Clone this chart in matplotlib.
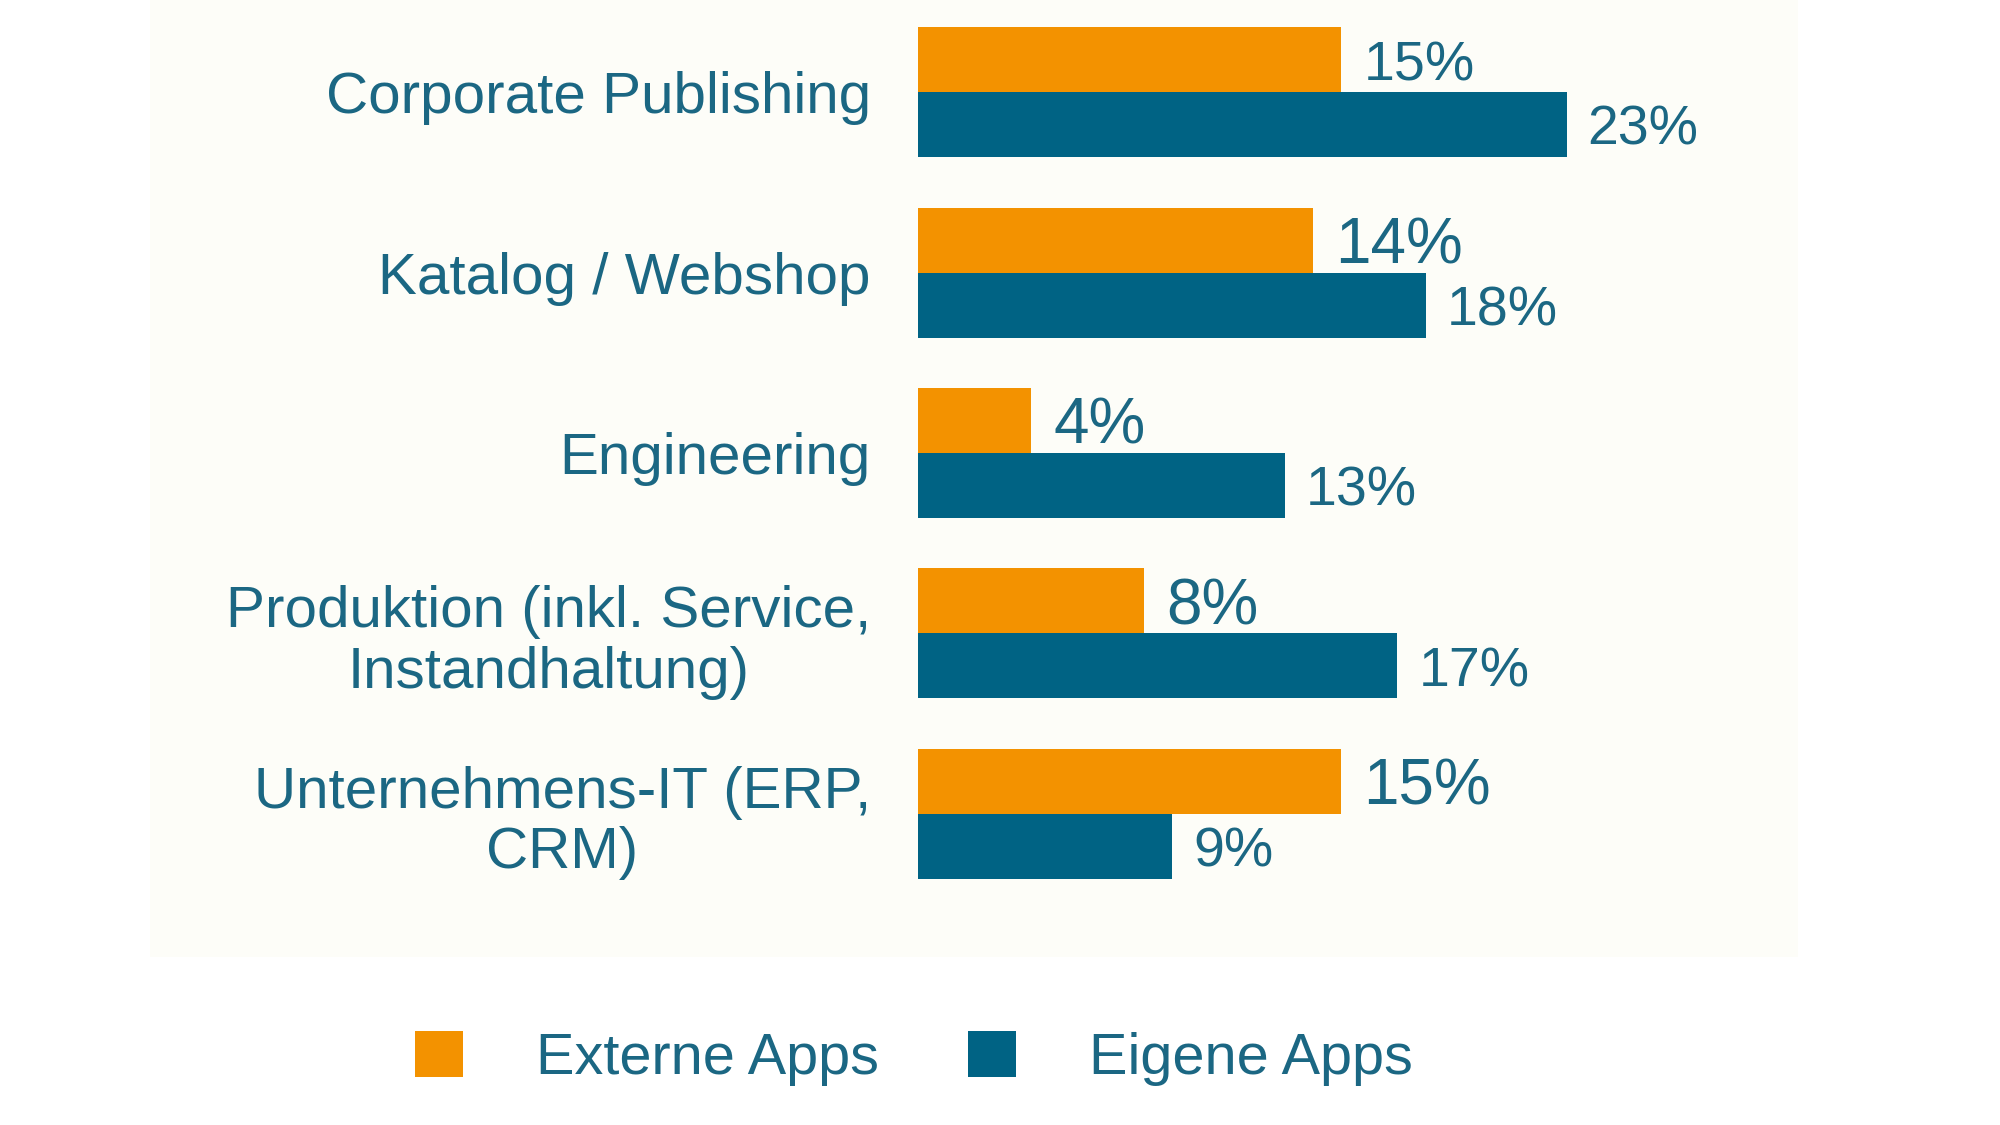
import numpy as np
import matplotlib
matplotlib.use('Agg')
import matplotlib.pyplot as plt
from matplotlib.patches import Rectangle

plt.rcParams['font.family'] = ['Liberation Sans', 'DejaVu Sans']

# data
categories = ['Corporate Publishing',
              'Katalog / Webshop',
              'Engineering',
              'Produktion (inkl. Service,\nInstandhaltung)',
              'Unternehmens-IT (ERP,\nCRM)']
externe = [15, 14, 4, 8, 15]
eigene = [23, 18, 13, 17, 9]
# some value labels are drawn bigger in the original
externe_big = [False, True, True, True, True]

orange = '#F39200'
blue = '#006384'
txt = '#1B6783'

fig = plt.figure(figsize=(20, 11.25), dpi=100)
fig.patch.set_facecolor('white')
# light panel behind the chart
fig.add_artist(Rectangle((150/2000, 1-957/1125), 1648/2000, 957/1125,
                         transform=fig.transFigure, facecolor='#FDFDF8',
                         edgecolor='none', zorder=0))

ax = fig.add_axes([918/2000, 1-904/1125, 846/2000, 902/1125])
ax.patch.set_alpha(0)

y = np.arange(len(categories))
h = 0.36
b1 = ax.barh(y - h/2, externe, height=h, color=orange, label='Externe Apps')
b2 = ax.barh(y + h/2, eigene, height=h, color=blue, label='Eigene Apps')

for i in range(len(categories)):
    fs = 46 if externe_big[i] else 40
    ax.text(externe[i] + 0.8, y[i] - h/2 + 0.035, f'{externe[i]}%', va='center',
            ha='left', fontsize=fs, color=txt)
    ax.text(eigene[i] + 0.75, y[i] + h/2 + 0.035, f'{eigene[i]}%', va='center',
            ha='left', fontsize=40, color=txt)

ax.set_xlim(0, 30)
ax.set_ylim(len(categories) - 0.5, -0.5)
ax.set_yticks(y)
ax.set_yticklabels(categories, fontsize=42, color=txt)
for lab in ax.get_yticklabels():
    lab.set_multialignment('center')
    lab.set_linespacing(1.15)
ax.tick_params(axis='y', length=0, pad=34)
ax.set_xticks([])
for s in ax.spines.values():
    s.set_visible(False)

leg = fig.legend(handles=[b1, b2], loc='center', bbox_to_anchor=(0.457, 0.059),
                 ncol=2, frameon=False, fontsize=41.5, handlelength=0.83,
                 handleheight=0.83, handletextpad=1.27, columnspacing=1.55,
                 borderpad=0)
for t in leg.get_texts():
    t.set_color(txt)

fig.savefig('out.png', dpi=100, facecolor='white')
